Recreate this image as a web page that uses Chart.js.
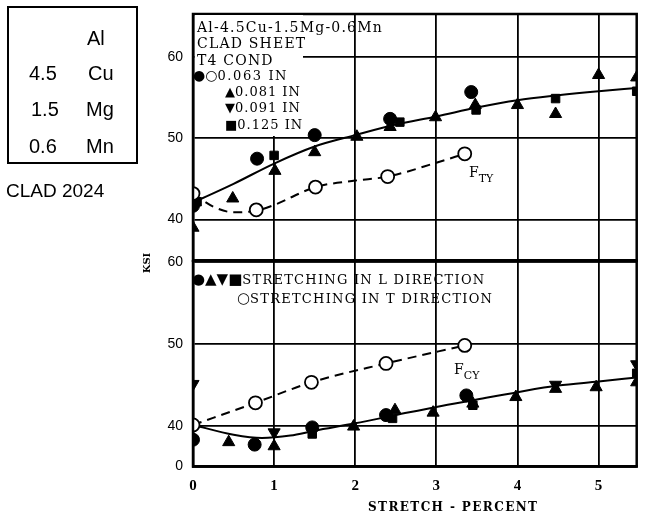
<!DOCTYPE html>
<html>
<head>
<meta charset="utf-8">
<script src="https://cdn.jsdelivr.net/npm/chart.js@4"></script>
<style>
  body { margin: 0; background: #fff; }
  #wrap { position: relative; width: 645px; height: 520px; overflow: hidden; background: #fff; }
  .cv { position: absolute; left: 0; width: 645px; }
  .txt { position: absolute; white-space: nowrap; color: #000; line-height: 1; }
  .serif { font-family: "DejaVu Serif", "Liberation Serif", serif; }
  .sans { font-family: "Liberation Sans", Arial, sans-serif; }
  .leg { font-size: 13px; letter-spacing: 1px; }
  .leg14 { font-size: 14px; letter-spacing: 1.2px; }
  #comp { position: absolute; left: 7px; top: 6px; width: 127px; height: 154px; border: 2.5px solid #000; }
  #legTop { position: absolute; left: 195px; top: 15px; width: 108px; height: 121px; background: #fff; }
  .sym { font-family: "DejaVu Sans", sans-serif; letter-spacing: 0; }
</style>
</head>
<body>
<div id="wrap">
  <canvas id="upper" class="cv" style="top:0;height:269px"></canvas>
  <canvas id="lower" class="cv" style="top:253px;height:267px"></canvas>

  <div id="comp"></div>
  <div class="txt sans" style="left:87px;top:28px;font-size:20px">Al</div>
  <div class="txt sans" style="left:29px;top:63px;font-size:20px">4.5</div>
  <div class="txt sans" style="left:88px;top:63px;font-size:20px">Cu</div>
  <div class="txt sans" style="left:31px;top:99px;font-size:20px">1.5</div>
  <div class="txt sans" style="left:86px;top:99px;font-size:20px">Mg</div>
  <div class="txt sans" style="left:29px;top:136px;font-size:20px">0.6</div>
  <div class="txt sans" style="left:86px;top:136px;font-size:20px">Mn</div>
  <div class="txt sans" style="left:6px;top:181px;font-size:19px">CLAD 2024</div>

  <div id="legTop"></div>
  <div class="txt serif leg14" style="left:197px;top:20px">Al-4.5Cu-1.5Mg-0.6Mn</div>
  <div class="txt serif leg14" style="left:197px;top:36px">CLAD SHEET</div>
  <div class="txt serif leg14" style="left:197px;top:53px">T4 COND</div>
  <div class="txt serif leg" style="left:193px;top:68px;letter-spacing:1.6px"><span class="sym" style="font-size:14px">●○</span>0.063 IN</div>
  <div class="txt serif leg" style="left:225px;top:85px"><span class="sym">▲</span>0.081 IN</div>
  <div class="txt serif leg" style="left:225px;top:101px"><span class="sym">▼</span>0.091 IN</div>
  <div class="txt serif leg" style="left:225px;top:118px"><span class="sym">■</span>0.125 IN</div>

  <div class="txt serif leg" style="left:192px;top:272px;letter-spacing:1.25px"><span class="sym" style="font-size:15px">●▲▼■</span>STRETCHING IN L DIRECTION</div>
  <div class="txt serif leg" style="left:237px;top:291px;letter-spacing:1.25px"><span class="sym" style="font-size:15px">○</span>STRETCHING IN T DIRECTION</div>

  <div class="txt serif" style="left:469px;top:165px;font-size:14px">F<span style="font-size:11px;position:relative;top:5px">TY</span></div>
  <div class="txt serif" style="left:454px;top:362px;font-size:14px">F<span style="font-size:11px;position:relative;top:5px">CY</span></div>

  <div class="txt serif" style="left:368px;top:501px;font-size:12px;font-weight:bold;letter-spacing:1.4px">STRETCH - PERCENT</div>
  <div class="txt serif" style="left:137px;top:258px;font-size:10px;font-weight:bold;transform:rotate(-90deg)">KSI</div>
</div>

<script>
// ----- data -----
const xTicks = [0, 1, 2, 3, 4, 5];
const upperTicks = [40, 50, 60];
const lowerTickValues = [35.03, 40, 50, 60];
const lowerTickLabels = ['0', '40', '50', '60'];

// F_TY (upper panel)
const ftyCircleX = [0, 0.79, 1.50, 2.43, 3.43];
const ftyCircleY = [41.7, 47.5, 50.4, 52.4, 55.7];
const ftySquareX = [0.05, 1.0, 2.55, 3.49, 4.47, 5.47];
const ftySquareY = [42.2, 47.9, 52.0, 53.5, 54.9, 55.8];
const ftyTriUpX = [0, 0.49, 1.01, 1.50, 2.02, 2.43, 2.99, 3.48, 4.0, 4.47, 5.0, 5.47];
const ftyTriUpY = [39.0, 42.6, 46.0, 48.3, 50.2, 51.4, 52.6, 54.1, 54.1, 53.0, 57.8, 57.5];
const ftyOpenX = [0, 0.78, 1.51, 2.40, 3.35];
const ftyOpenY = [43.2, 41.2, 44.0, 45.3, 48.1];
const ftyFitX = [0, 0.5, 1, 1.5, 2, 2.5, 3, 3.5, 4, 4.5, 5, 5.47];
const ftyFitY = [42.1, 44.4, 46.9, 49.0, 50.4, 51.7, 52.7, 53.8, 54.7, 55.3, 55.8, 56.2];
const ftyTFitX = [0, 0.25, 0.5, 0.78, 1.0, 1.51, 2.0, 2.4, 3.0, 3.35];
const ftyTFitY = [43.2, 41.6, 40.9, 41.1, 41.8, 44.0, 44.8, 45.3, 47.0, 48.1];

// F_CY (lower panel)
const fcyCircleX = [0, 0.76, 1.47, 2.38, 3.37];
const fcyCircleY = [38.3, 37.7, 39.8, 41.3, 43.7];
const fcySquareX = [1.47, 2.46, 3.45, 5.47];
const fcySquareY = [39.0, 40.9, 42.5, 46.4];
const fcyTriUpX = [0.44, 1.0, 1.98, 2.49, 2.96, 3.45, 3.98, 4.47, 4.97, 5.47];
const fcyTriUpY = [38.0, 37.5, 39.9, 41.9, 41.6, 42.7, 43.5, 44.5, 44.7, 45.3];
const fcyTriDownX = [0, 1.0, 4.47, 5.47];
const fcyTriDownY = [45.1, 39.2, 45.0, 47.5];
const fcyOpenX = [0, 0.77, 1.46, 2.38, 3.35];
const fcyOpenY = [40.1, 42.8, 45.3, 47.6, 49.8];
const fcyFitX = [0, 0.5, 0.85, 1.2, 1.5, 2, 2.5, 3, 3.5, 4, 4.5, 5, 5.47];
const fcyFitY = [40.1, 38.9, 38.5, 38.8, 39.4, 40.3, 41.3, 42.3, 43.2, 44.1, 44.9, 45.4, 45.9];

const pts = (xs, ys) => xs.map((x, i) => ({ x: x, y: ys[i] }));

function markers(xs, ys, style, opts) {
    return Object.assign({
        type: 'scatter',
        data: pts(xs, ys),
        pointStyle: style,
        pointRadius: 6.5,
        backgroundColor: '#000',
        borderColor: '#000',
        borderWidth: 1,
        showLine: false,
        order: 1
    }, opts || {});
}

function curve(xs, ys, dashed) {
    return {
        type: 'line',
        data: pts(xs, ys),
        borderColor: '#000',
        borderWidth: 2,
        borderDash: dashed ? [9, 6] : [],
        pointRadius: 0,
        fill: false,
        cubicInterpolationMode: 'monotone',
        order: 5
    };
}

const frame = {
    id: 'frame',
    afterDraw(chart) {
        const a = chart.chartArea, c = chart.ctx;
        c.save();
        c.strokeStyle = '#000';
        c.lineWidth = 2.5;
        c.strokeRect(a.left, a.top, a.right - a.left, a.bottom - a.top);
        c.restore();
    }
};

// axis sizes are pinned so both panels share the same plot box
function noPad(s) {
    s.paddingTop = 0; s.paddingBottom = 0; s.paddingLeft = 0; s.paddingRight = 0;
}

function xScale(showLabels, h) {
    return {
        type: 'linear', min: 0, max: 5.47,
        afterBuildTicks: s => { s.ticks = xTicks.map(v => ({ value: v })); },
        afterFit: s => { s.height = h; noPad(s); },
        grid: { color: '#000', lineWidth: 1.8, drawTicks: false },
        border: { color: '#000', width: 2.5 },
        ticks: {
            display: showLabels, padding: 11, color: '#000',
            font: { family: 'Liberation Serif', size: 15, weight: 'bold' }
        }
    };
}

function yScale(min, max, vals, labels) {
    return {
        type: 'linear', min: min, max: max,
        afterBuildTicks: s => { s.ticks = vals.map(v => ({ value: v })); },
        afterFit: s => { s.width = 193; noPad(s); },
        grid: { color: '#000', lineWidth: 1.8, drawTicks: false },
        border: { color: '#000', width: 2.5 },
        ticks: {
            padding: 10, color: '#000',
            font: { family: 'Liberation Sans', size: 14 },
            callback: v => labels ? labels[vals.indexOf(v)] : String(v)
        }
    };
}

const common = {
    responsive: false,
    animation: false,
    plugins: { legend: { display: false }, tooltip: { enabled: false } },
    events: []
};

function makeCanvas(id, h) {
    const el = document.getElementById(id);
    el.width = 645; el.height = h;
    return el;
}

new Chart(makeCanvas('upper', 269), {
    type: 'scatter',
    data: {
        datasets: [
            markers(ftyOpenX, ftyOpenY, 'circle', { backgroundColor: '#fff', borderWidth: 1.8 }),
            markers(ftyCircleX, ftyCircleY, 'circle'),
            markers(ftySquareX, ftySquareY, 'rect', { pointRadius: 6 }),
            markers(ftyTriUpX, ftyTriUpY, 'triangle', { pointRadius: 7 }),
            curve(ftyFitX, ftyFitY, false),
            curve(ftyTFitX, ftyTFitY, true)
        ]
    },
    options: Object.assign({}, common, {
        layout: { padding: { top: 14, right: 5, left: 0, bottom: 0 } },
        scales: {
            x: xScale(false, 2),
            y: yScale(34.94, 65.31, upperTicks, null)
        }
    }),
    plugins: [frame]
});

new Chart(makeCanvas('lower', 267), {
    type: 'scatter',
    data: {
        datasets: [
            markers(fcyOpenX, fcyOpenY, 'circle', { backgroundColor: '#fff', borderWidth: 1.8 }),
            markers(fcyCircleX, fcyCircleY, 'circle'),
            markers(fcySquareX, fcySquareY, 'rect', { pointRadius: 6 }),
            markers(fcyTriUpX, fcyTriUpY, 'triangle', { pointRadius: 7 }),
            markers(fcyTriDownX, fcyTriDownY, 'triangle', { pointRadius: 7, rotation: 180 }),
            curve(fcyFitX, fcyFitY, false),
            curve(fcyOpenX, fcyOpenY, true)
        ]
    },
    options: Object.assign({}, common, {
        layout: { padding: { top: 2, right: 5, left: 0, bottom: 0 } },
        scales: {
            x: xScale(true, 53.5),
            y: yScale(35.03, 60.06, lowerTickValues, lowerTickLabels)
        }
    }),
    plugins: [frame]
});
</script>
</body>
</html>
